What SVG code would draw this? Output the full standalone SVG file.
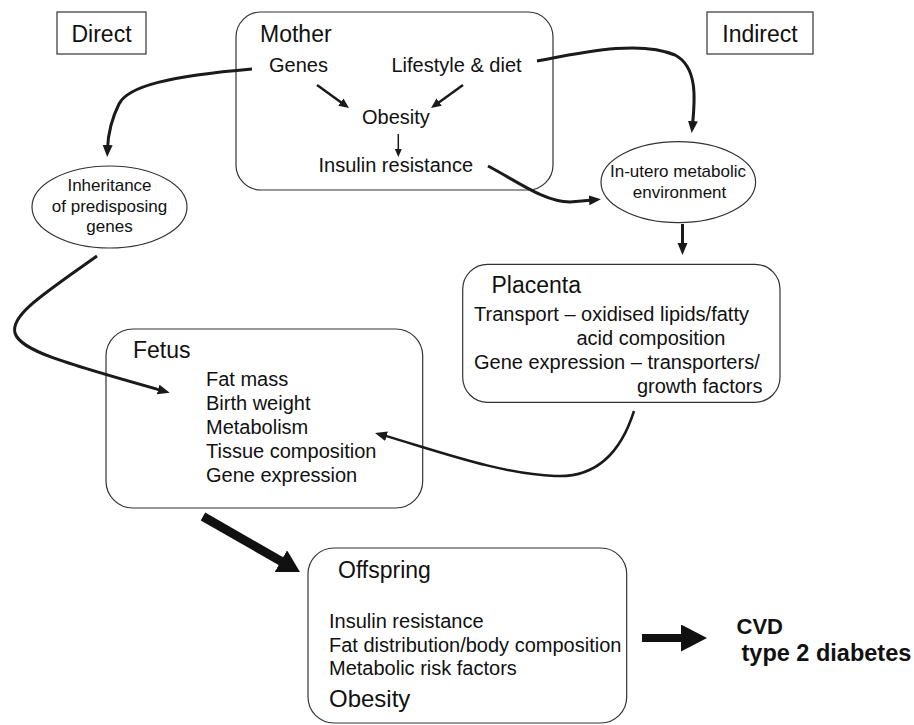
<svg xmlns="http://www.w3.org/2000/svg" width="914" height="725" viewBox="0 0 914 725">
<style>
  text { font-family: "Liberation Sans", Arial, sans-serif; fill: #111; }
  .hd { font-size: 23px; }
  .bd { font-size: 20px; }
  .el { font-size: 17px; }
  .bold { font-weight: bold; }
  .box { fill: #fff; stroke: #333; stroke-width: 1.2; }
  .conn { fill: none; stroke: #1a1a1a; stroke-width: 3; }
  .thin { fill: none; stroke: #1a1a1a; stroke-width: 2.5; }
  .hair { fill: none; stroke: #1a1a1a; stroke-width: 1.5; }
  .thick { fill: none; stroke: #111; }
</style>
<defs>
  <marker id="ah" markerUnits="userSpaceOnUse" markerWidth="14" markerHeight="12" refX="4" refY="5" orient="auto">
    <path d="M0,0 L12,5 L0,10 z" fill="#1a1a1a"/>
  </marker>
  <marker id="ahs" markerUnits="userSpaceOnUse" markerWidth="12" markerHeight="10" refX="3" refY="4.5" orient="auto">
    <path d="M0,0 L10,4.5 L0,9 z" fill="#1a1a1a"/>
  </marker>
  <marker id="aht" markerUnits="userSpaceOnUse" markerWidth="10" markerHeight="8" refX="2" refY="3.5" orient="auto">
    <path d="M0,0 L8,3.5 L0,7 z" fill="#1a1a1a"/>
  </marker>
  <marker id="big" markerUnits="userSpaceOnUse" markerWidth="24" markerHeight="26" refX="2" refY="12.5" orient="auto">
    <path d="M0,0 L22,12.5 L0,25 z" fill="#111"/>
  </marker>
  <marker id="big2" markerUnits="userSpaceOnUse" markerWidth="28" markerHeight="28" refX="2" refY="13.5" orient="auto">
    <path d="M0,0 L26,13.5 L0,27 z" fill="#111"/>
  </marker>
</defs>

<g id="direct">
  <rect class="box" x="57" y="12" width="89" height="42"/>
  <text class="hd" x="101.5" y="42" text-anchor="middle">Direct</text>
</g>

<g id="indirect">
  <rect class="box" x="707" y="12" width="106" height="42"/>
  <text class="hd" x="760" y="42" text-anchor="middle">Indirect</text>
</g>

<g id="mother">
  <rect class="box" x="236" y="12" width="317" height="178" rx="25" ry="25"/>
  <text class="hd" x="260" y="42">Mother</text>
  <text class="bd" x="269" y="72">Genes</text>
  <text class="bd" x="391.5" y="72">Lifestyle &amp; diet</text>
  <text class="bd" x="362" y="124">Obesity</text>
  <text class="bd" x="318.5" y="172">Insulin resistance</text>
</g>

<g id="inheritance">
  <ellipse class="box" cx="109.5" cy="207" rx="77.5" ry="41"/>
  <text class="el" x="109.5" y="191" text-anchor="middle">Inheritance</text>
  <text class="el" x="109.5" y="212" text-anchor="middle">of predisposing</text>
  <text class="el" x="109.5" y="232" text-anchor="middle">genes</text>
</g>

<g id="inutero">
  <ellipse class="box" cx="678.3" cy="182.2" rx="77.3" ry="40.5"/>
  <text class="el" x="678" y="177" text-anchor="middle">In-utero metabolic</text>
  <text class="el" x="679.5" y="198" text-anchor="middle">environment</text>
</g>

<g id="placenta">
  <rect class="box" x="462.7" y="264.3" width="317.3" height="138" rx="25" ry="25"/>
  <text class="hd" x="491.5" y="293">Placenta</text>
  <text class="bd" x="474" y="320.5">Transport – oxidised lipids/fatty</text>
  <text class="bd" x="576.5" y="345">acid composition</text>
  <text class="bd" x="474" y="369">Gene expression – transporters/</text>
  <text class="bd" x="762.5" y="392.5" text-anchor="end">growth factors</text>
</g>

<g id="fetus">
  <rect class="box" x="106" y="329" width="316.7" height="179" rx="27" ry="27"/>
  <text class="hd" x="133" y="358">Fetus</text>
  <text class="bd" x="206" y="385.5">Fat mass</text>
  <text class="bd" x="206" y="410">Birth weight</text>
  <text class="bd" x="206" y="433.5">Metabolism</text>
  <text class="bd" x="206" y="457.5">Tissue composition</text>
  <text class="bd" x="206" y="481.5">Gene expression</text>
</g>

<g id="offspring">
  <rect class="box" x="308" y="548" width="318.7" height="175" rx="26" ry="26"/>
  <text class="hd" x="338" y="578">Offspring</text>
  <text class="bd" x="329" y="628">Insulin resistance</text>
  <text class="bd" x="329" y="651.5">Fat distribution/body composition</text>
  <text class="bd" x="329" y="675">Metabolic risk factors</text>
  <text x="329" y="706.5" style="font-size:24px">Obesity</text>
</g>

<g id="outcome">
  <text class="bold" x="736.5" y="634" style="font-size:22px">CVD</text>
  <text class="bold" x="741.5" y="661" style="font-size:23.5px">type 2 diabetes</text>
</g>

<g id="connectors">
  <path class="conn" d="M252,69 C170,76 128,86 119,104 C111,120 108,135 107.5,149" marker-end="url(#ah)"/>
  <path class="conn" d="M537,61 C585,52 640,40 675,55 C698,67 695,100 692.5,125" marker-end="url(#ah)"/>
  <path class="conn" d="M488,166 C520,183 545,202 570,202 L593,200" marker-end="url(#ah)"/>
  <path class="conn" d="M97,256 C45,293 10,315 15,333 C20,350 60,362 162,390.6" marker-end="url(#ah)"/>
  <path class="thin" d="M634,411 C620,455 595,478 555,476 C500,474 435,450 382.7,435.1" marker-end="url(#ah)"/>
  <path class="conn" d="M682.5,224 L682.5,247" marker-end="url(#ah)"/>
  <path class="thin" d="M317,85 L343.3,103.9" marker-end="url(#ahs)"/>
  <path class="thin" d="M463,85 L436.7,103.9" marker-end="url(#ahs)"/>
  <path class="hair" d="M398.3,134 L398.3,151" marker-end="url(#aht)"/>
  <path class="thick" stroke-width="9" d="M203,516.5 L282.6,562.1" marker-end="url(#big)"/>
  <path class="thick" stroke-width="8" d="M642,638 L683,638" marker-end="url(#big2)"/>
</g>
</svg>
